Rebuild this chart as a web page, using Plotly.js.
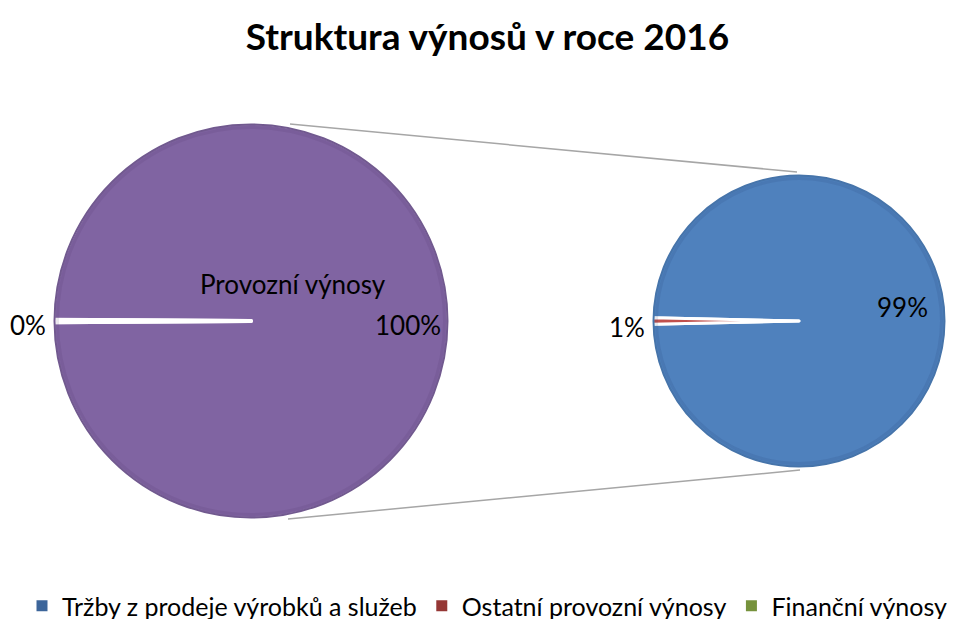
<!DOCTYPE html>
<html>
<head>
<meta charset="utf-8">
<script src="https://cdn.plot.ly/plotly-3.0.1.min.js"></script>
<style>html,body{margin:0;padding:0;background:#fff}#chart{width:975px;height:619px}</style>
</head>
<body>
<div id="chart"></div>
<script>
// ---- data (share of total revenue, %) ----
const chartTitle = 'Struktura výnosů v roce 2016';
const primaryLabels = ['Provozní výnosy', 'Finanční výnosy'];
const secondaryLabels = ['Tržby z prodeje výrobků a služeb', 'Ostatní provozní výnosy'];
const secondaryValues = [99.1, 0.7];       // Tržby, Ostatní provozní
const financialValue = 0.2;                // Finanční výnosy
const legendLabels = ['Tržby z prodeje výrobků a služeb', 'Ostatní provozní výnosy', 'Finanční výnosy'];

// ---- derived ----
const operatingTotal = secondaryValues[0] + secondaryValues[1];
const primaryValues = [operatingTotal, financialValue];
const total = operatingTotal + financialValue;
const pct = v => Math.round(v / total * 100) + '%';

// ---- styles ----
const colPurple = '#8064A2';
const colBlue = '#4F81BD';
const colRed = '#C0504D';
const colGreen = '#9BBB59';
const legendCols = ['#3C659A', '#953735', '#76923C'];
const FONT = 'Lato, "Open Sans", sans-serif';

const W = 975, H = 619;
const px = x => x / W;
const py = y => 1 - y / H;

const fSmall = financialValue / total;
const fOther = secondaryValues[1] / operatingTotal;

const L = {x0: 53, x1: 449, y0: 123, y1: 519};
const R = {x0: 652, x1: 946, y0: 174, y1: 468};

const leftPie = {
  type: 'pie', labels: primaryLabels, values: primaryValues, sort: false,
  direction: 'clockwise', rotation: -90 + 180 * fSmall,
  marker: {colors: [colPurple, colGreen], line: {color: '#ffffff', width: 4}},
  textinfo: 'none', showlegend: false, hoverinfo: 'label+percent',
  domain: {x: [px(L.x0), px(L.x1)], y: [py(L.y1), py(L.y0)]}
};
const rightPie = {
  type: 'pie', labels: secondaryLabels, values: secondaryValues, sort: false,
  direction: 'clockwise', rotation: -90 + 180 * fOther,
  marker: {colors: [colBlue, colRed], line: {color: '#ffffff', width: 3}},
  textinfo: 'none', showlegend: false, hoverinfo: 'label+value',
  domain: {x: [px(R.x0), px(R.x1)], y: [py(R.y1), py(R.y0)]}
};
const legendTraces = legendLabels.map((lab, i) => ({
  type: 'scatter', mode: 'markers', x: [null], y: [null], name: lab,
  marker: {symbol: 'square', size: 11, color: legendCols[i]},
  hoverinfo: 'skip', showlegend: true
}));

const labelFont = {family: FONT, size: 26, color: '#000'};
const ann = (text, x, y) => ({text: text, x: px(x), y: py(y), xref: 'paper', yref: 'paper',
  xanchor: 'center', yanchor: 'middle', showarrow: false, font: labelFont});
const annotations = [
  ann(primaryLabels[0], 293, 284),
  ann(pct(primaryValues[0]), 408, 325),
  ann(pct(primaryValues[1]), 28, 325),
  ann(pct(secondaryValues[0]), 902, 307),
  ann(pct(secondaryValues[1]), 627, 327)
];

// subtle edge shading rims (decoration)
const circ = (b, inset, color, width) => ({type: 'circle', xref: 'paper', yref: 'paper',
  x0: px(b.x0 + inset), x1: px(b.x1 - inset), y0: py(b.y1 - inset), y1: py(b.y0 + inset),
  line: {color: color, width: width}});
const rim = (b, c1, c2) => [circ(b, 4.5, c2, 3), circ(b, 1.5, c1, 2)];

const shapes = [
  {type: 'line', xref: 'paper', yref: 'paper', x0: px(290), y0: py(124), x1: px(797), y1: py(172), line: {color: '#A6A6A6', width: 1.5}},
  {type: 'line', xref: 'paper', yref: 'paper', x0: px(288), y0: py(519), x1: px(800), y1: py(470), line: {color: '#A6A6A6', width: 1.5}}
].concat(
  rim(L, '#71598F', 'rgba(70,50,100,0.12)'),
  rim(R, '#4674AA', 'rgba(30,60,110,0.12)')
);

const layout = {
  width: W, height: H,
  margin: {l: 0, r: 0, t: 0, b: 0, autoexpand: false},
  paper_bgcolor: '#ffffff', plot_bgcolor: '#ffffff',
  title: {text: '<b>' + chartTitle + '</b>', x: 0.5, xanchor: 'center', y: py(37), yanchor: 'middle',
          font: {family: FONT, size: 37, color: '#000'}},
  xaxis: {visible: false}, yaxis: {visible: false},
  showlegend: true,
  legend: {orientation: 'h', x: 0.5, xanchor: 'center', y: py(606), yanchor: 'middle',
           font: {family: FONT, size: 25, color: '#000'}, itemwidth: 30, bgcolor: 'rgba(0,0,0,0)'},
  annotations: annotations, shapes: shapes
};

Plotly.newPlot('chart', [leftPie, rightPie].concat(legendTraces), layout, {displayModeBar: false, staticPlot: true});
</script>
</body>
</html>
